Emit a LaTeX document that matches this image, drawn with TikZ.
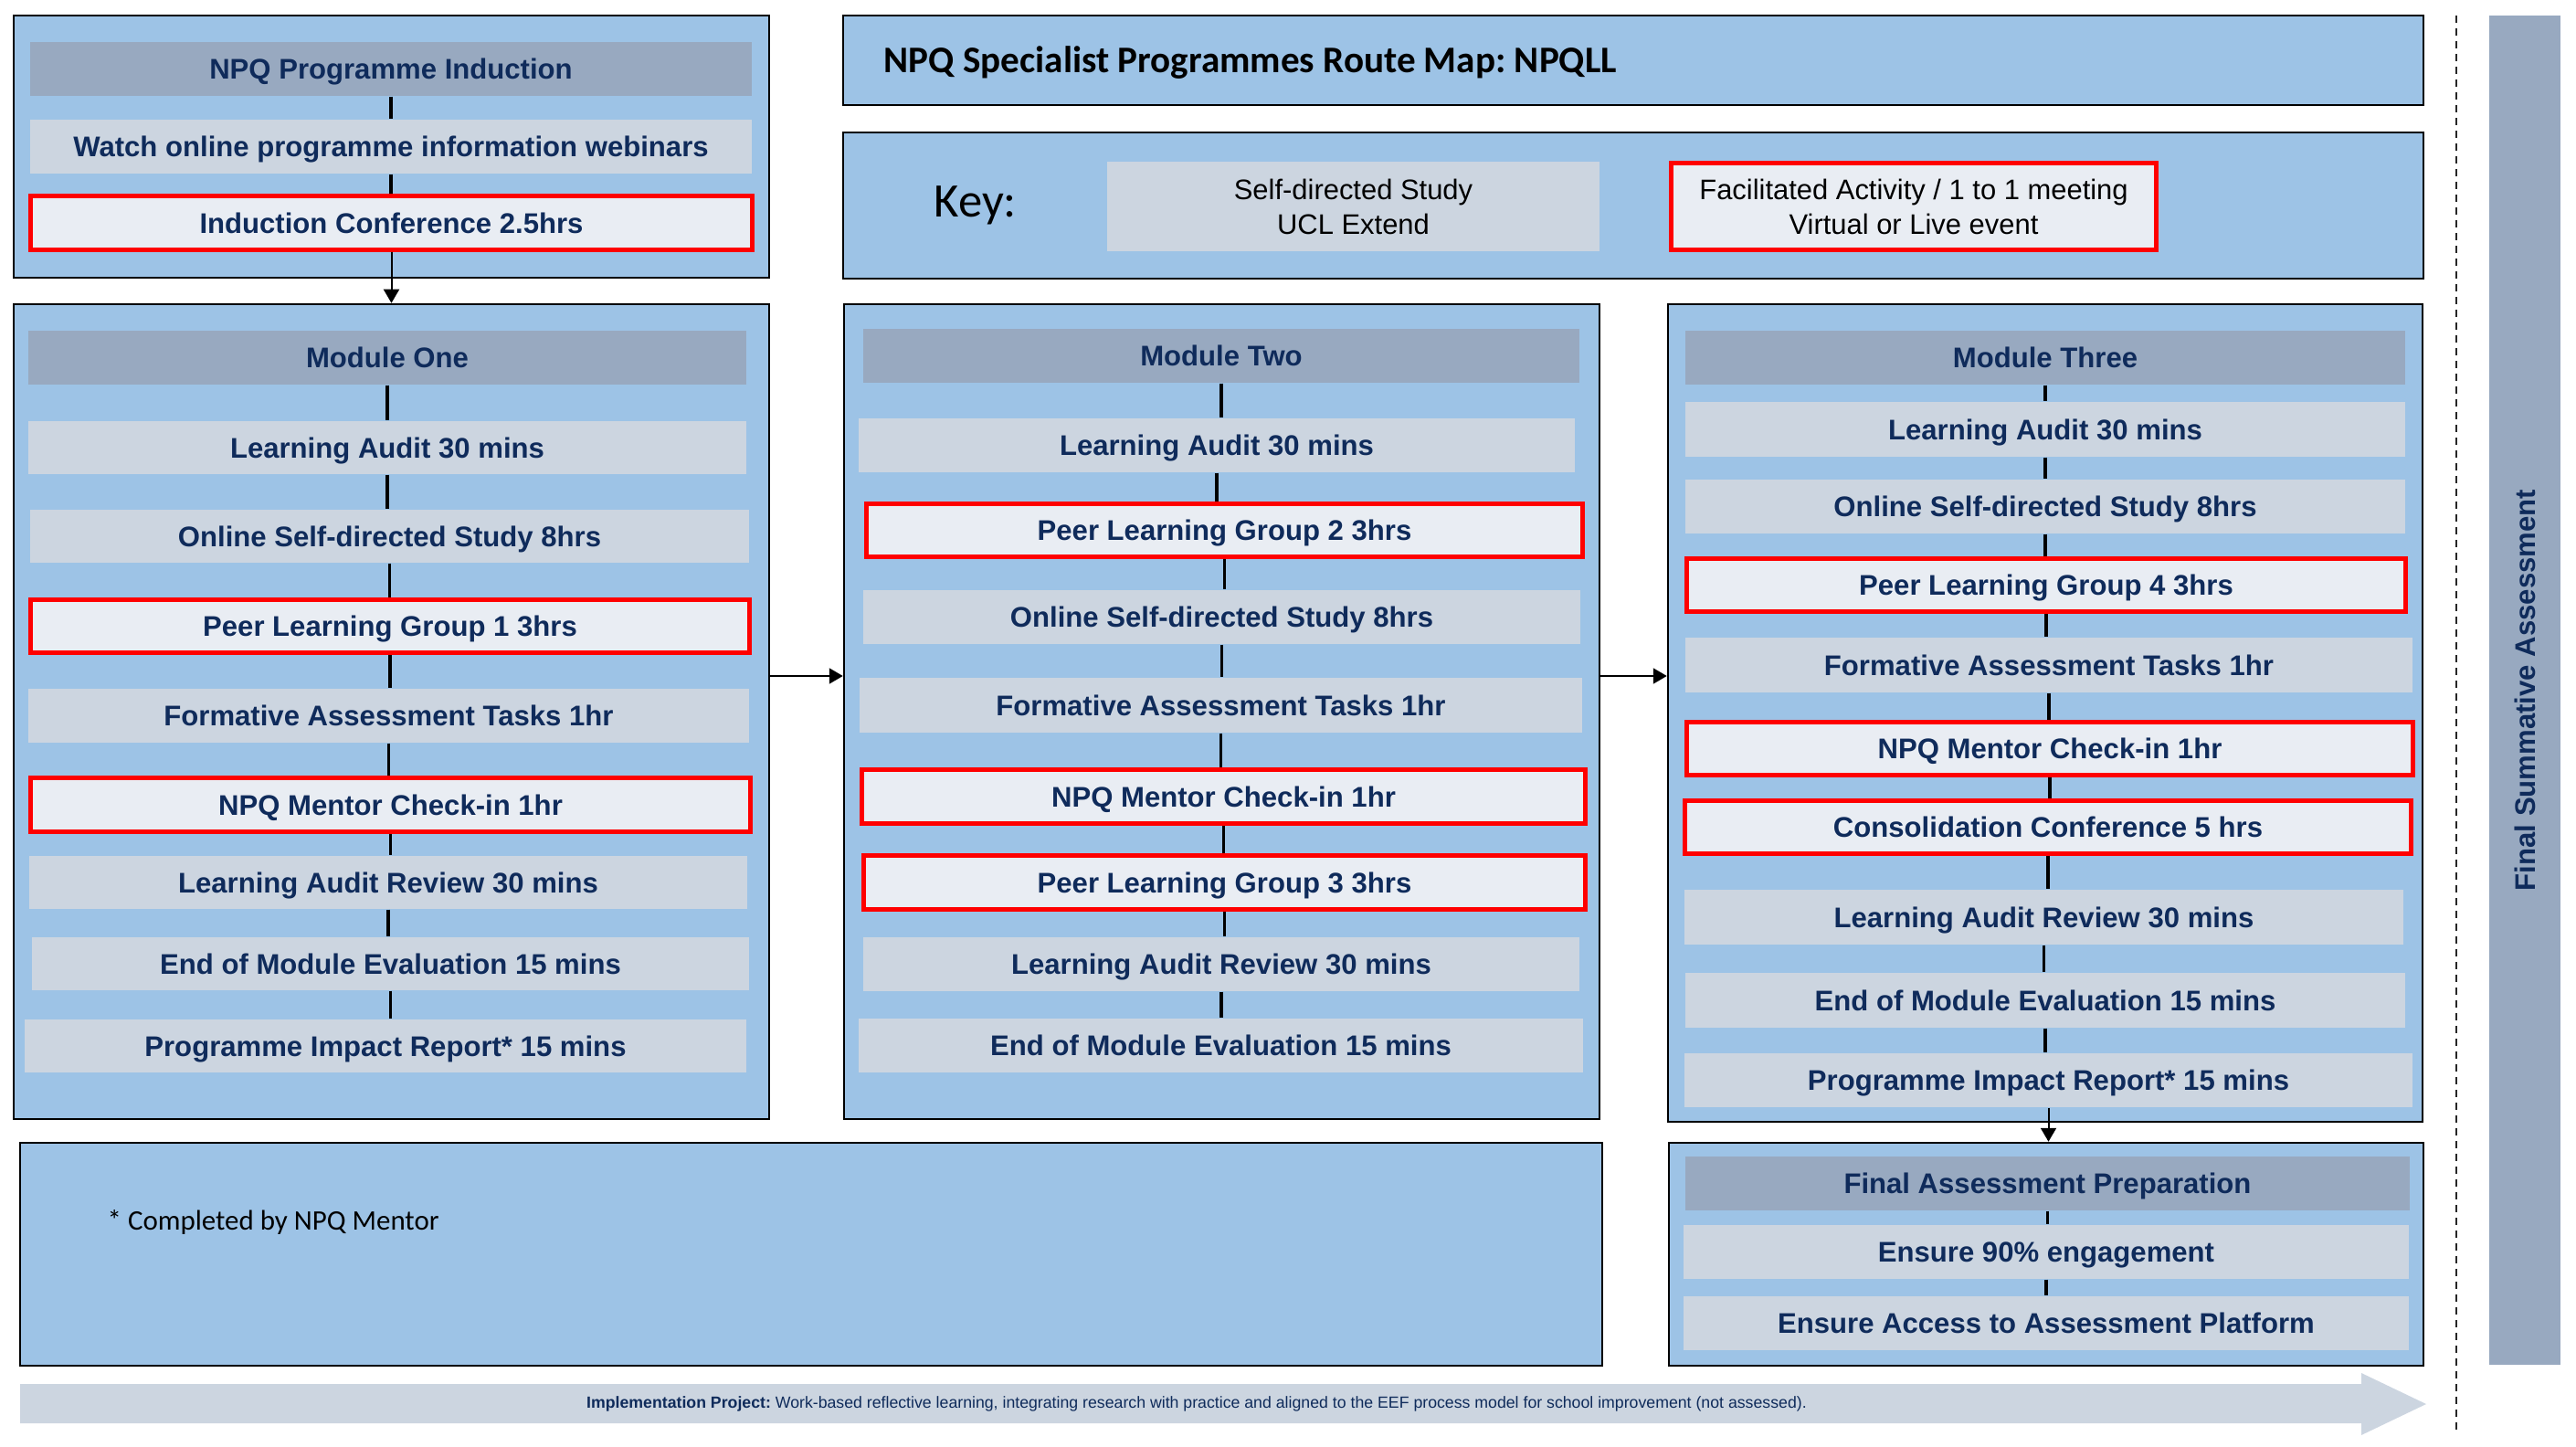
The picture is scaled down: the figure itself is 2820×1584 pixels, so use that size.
\documentclass[tikz,border=0pt]{standalone}
\usepackage{fontspec}
\setmainfont{Liberation Sans}
\newfontfamily\calibri{Carlito}
\usetikzlibrary{arrows.meta}
\frenchspacing
\definecolor{boxblue}{HTML}{9DC3E6}
\definecolor{hdr}{HTML}{98A9C0}
\definecolor{itm}{HTML}{CCD5E0}
\definecolor{itmlight}{HTML}{E9EDF3}
\definecolor{navy}{HTML}{0F2B5B}
\definecolor{arrowgrey}{HTML}{CCD5E0}
\newcommand\bx[7]{\node[#2, minimum width={(#5-#3)*0.1mm}, minimum height={(#6-#4)*0.1mm}] (#1) at ({(#3+#5)/2},{(#4+#6)/2}) {#7};}
\newcommand\rbx[7]{\node[#2, minimum width={(#5-#3-5)*0.1mm}, minimum height={(#6-#4-5)*0.1mm}] (#1) at ({(#3+#5)/2},{(#4+#6)/2}) {#7};}
\begin{document}
\begin{tikzpicture}[x=0.1mm,y=-0.1mm,
 panel/.style={draw=black, line width=0.25mm, fill=boxblue, inner sep=0pt},
 itemfont/.style={font=\fontsize{8.85pt}{10.5pt}\selectfont\bfseries, text=navy, text height=6.35pt, text depth=0pt},
 hdrbox/.style={fill=hdr, inner sep=0pt, itemfont},
 itembox/.style={fill=itm, inner sep=0pt, itemfont},
 redbox/.style={fill=itmlight, draw=red, line width=0.5mm, inner sep=0pt, itemfont},
 conn/.style={line width=0.35mm, draw=black},
 arr/.style={line width=0.2mm, draw=black, -{Triangle[length=1.5mm,width=1.7mm]}},
]
\useasboundingbox (0,0) rectangle (2820,1584);

% panels
\bx{ind}{panel}{15}{17}{842}{304}{}
\bx{title}{panel}{923}{17}{2653}{115}{}
\bx{key}{panel}{923}{145}{2653}{305}{}
\bx{m1}{panel}{15}{333}{842}{1225}{}
\bx{m2}{panel}{924}{333}{1751}{1225}{}
\bx{m3}{panel}{1826}{333}{2652}{1228}{}
\bx{notes}{panel}{22}{1251}{1754}{1495}{}
\bx{fa}{panel}{1827}{1251}{2653}{1495}{}
\bx{fsa}{fill=hdr, inner sep=0pt}{2725}{17}{2803}{1494}{}

% title and key
\node[anchor=west, font=\calibri\bfseries\fontsize{11.7pt}{13pt}\selectfont, text=black, inner sep=0pt, text height=7.5pt, text depth=0pt] (ttl) at (967,66) {NPQ Specialist Programmes Route Map: NPQLL};
\node[anchor=west, font=\calibri\fontsize{15pt}{18pt}\selectfont, text=black, inner sep=0pt] (keylbl) at (1022,225) {Key:};
\bx{k1}{fill=itm, inner sep=0pt, align=center, font=\fontsize{8.8pt}{10.8pt}\selectfont}{1212}{177}{1751}{275}{Self-directed Study\\UCL Extend}
\rbx{k2}{fill=itmlight, draw=red, line width=0.5mm, inner sep=0pt, align=center, font=\fontsize{8.8pt}{10.8pt}\selectfont}{1827}{176}{2363}{276}{Facilitated Activity / 1 to 1 meeting\\Virtual or Live event}

% induction
\bx{ih}{hdrbox}{33}{46}{823}{105}{NPQ Programme Induction}
\bx{iw}{itembox}{33}{131}{823}{190}{Watch online programme information webinars}
\rbx{ic}{redbox}{31}{212}{826}{276}{Induction Conference 2.5hrs}

% module one
\bx{h1}{hdrbox}{31}{362}{817}{421}{Module One}
\bx{a1}{itembox}{31}{461}{817}{519}{Learning Audit 30 mins}
\bx{b1}{itembox}{33}{558}{820}{616}{Online Self-directed Study 8hrs}
\rbx{c1}{redbox}{31}{654}{823}{717}{Peer Learning Group 1 3hrs}
\bx{d1}{itembox}{31}{754}{820}{813}{Formative Assessment Tasks 1hr}
\rbx{e1}{redbox}{31}{849}{824}{913}{NPQ Mentor Check-in 1hr}
\bx{f1}{itembox}{32}{937}{818}{995}{Learning Audit Review 30 mins}
\bx{g1}{itembox}{35}{1026}{820}{1084}{End of Module Evaluation 15 mins}
\bx{k1x}{itembox}{27}{1116}{817}{1174}{Programme Impact Report* 15 mins}

% module two
\bx{h2}{hdrbox}{945}{360}{1729}{419}{Module Two}
\bx{a2}{itembox}{940}{458}{1724}{517}{Learning Audit 30 mins}
\rbx{b2}{redbox}{946}{549}{1735}{612}{Peer Learning Group 2 3hrs}
\bx{c2}{itembox}{945}{646}{1730}{705}{Online Self-directed Study 8hrs}
\bx{d2}{itembox}{941}{742}{1732}{802}{Formative Assessment Tasks 1hr}
\rbx{e2}{redbox}{941}{840}{1738}{904}{NPQ Mentor Check-in 1hr}
\rbx{f2}{redbox}{943}{934}{1738}{998}{Peer Learning Group 3 3hrs}
\bx{g2}{itembox}{945}{1026}{1729}{1085}{Learning Audit Review 30 mins}
\bx{k2x}{itembox}{940}{1115}{1733}{1174}{End of Module Evaluation 15 mins}

% module three
\bx{h3}{hdrbox}{1845}{362}{2633}{421}{Module Three}
\bx{a3}{itembox}{1845}{440}{2633}{500}{Learning Audit 30 mins}
\bx{b3}{itembox}{1845}{525}{2633}{584}{Online Self-directed Study 8hrs}
\rbx{c3}{redbox}{1844}{609}{2636}{672}{Peer Learning Group 4 3hrs}
\bx{d3}{itembox}{1845}{698}{2641}{758}{Formative Assessment Tasks 1hr}
\rbx{e3}{redbox}{1844}{788}{2644}{851}{NPQ Mentor Check-in 1hr}
\rbx{f3}{redbox}{1842}{874}{2642}{937}{Consolidation Conference 5 hrs}
\bx{g3}{itembox}{1844}{974}{2631}{1034}{Learning Audit Review 30 mins}
\bx{j3}{itembox}{1845}{1065}{2633}{1125}{End of Module Evaluation 15 mins}
\bx{k3}{itembox}{1844}{1153}{2641}{1212}{Programme Impact Report* 15 mins}

% final assessment
\bx{fh}{hdrbox}{1845}{1266}{2638}{1325}{Final Assessment Preparation}
\bx{fe}{itembox}{1843}{1341}{2637}{1400}{Ensure 90\% engagement}
\bx{fp}{itembox}{1843}{1419}{2637}{1478}{Ensure Access to Assessment Platform}

% notes
\node[anchor=west, inner sep=0pt, font=\calibri\fontsize{8.8pt}{10pt}\selectfont, text=black] (note) at (117,1338) {* Completed by NPQ Mentor};

% summative text
\node[rotate=90, inner sep=0pt, itemfont] (fsat) at (fsa.center) {Final Summative Assessment};

% connectors
\foreach \u/\v in {ih/iw, iw/ic, h1/a1, a1/b1, b1/c1, c1/d1, d1/e1, e1/f1, f1/g1, g1/k1x,
  h2/a2, a2/b2, b2/c2, c2/d2, d2/e2, e2/f2, f2/g2, g2/k2x,
  h3/a3, a3/b3, b3/c3, c3/d3, d3/e3, e3/f3, f3/g3, g3/j3, j3/k3, fh/fe, fe/fp}
  {\draw[conn] (\u.south) -- (\u.south |- \v.north);}

\draw[arr] (ic.south) -- (ic.south |- m1.north);
\coordinate (y12) at (0,740);
\draw[arr] (m1.east |- y12) -- (m2.west |- y12);
\draw[arr] (m2.east |- y12) -- (m3.west |- y12);
\draw[arr] (k3.south) -- (k3.south |- fa.north);

% dashed separator
\coordinate (dtop) at (2689,17);
\coordinate (dbot) at (2689,1568);
\draw[line width=0.2mm, dash pattern=on 0.8mm off 0.6mm, draw=black!85] (dtop) -- (dbot);

% implementation arrow
\fill[arrowgrey] (22,1515) -- (2585,1515) -- (2585,1503) -- (2656,1537) -- (2585,1571) -- (2585,1558) -- (22,1558) -- cycle;
\node[inner sep=0pt, font=\fontsize{5.04pt}{6pt}\selectfont, text=navy] (impl) at (1310,1537) {\textbf{Implementation Project:} Work-based reflective learning, integrating research with practice and aligned to the EEF process model for school improvement (not assessed).};
\end{tikzpicture}
\end{document}
